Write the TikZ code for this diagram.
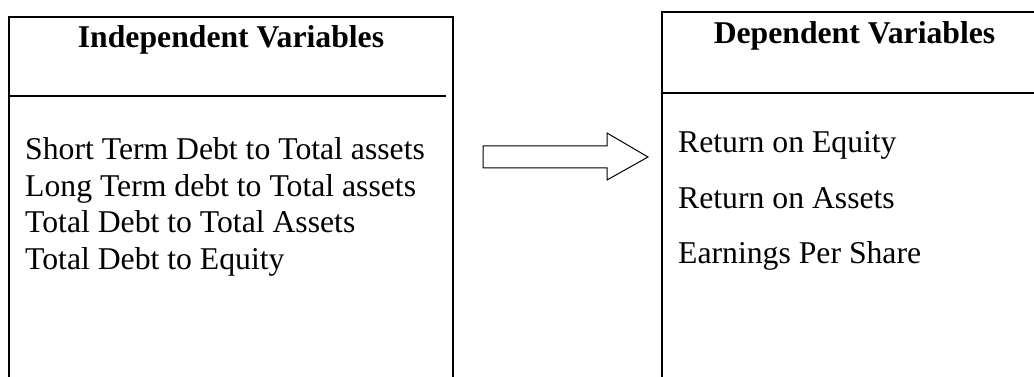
\documentclass[tikz,border=0pt]{standalone}
\usepackage{fontspec}
\setmainfont{Liberation Serif}
\begin{document}
\begin{tikzpicture}[x=1pt,y=-1pt,
  boxline/.style={draw=black,line width=1.6pt},
  divline/.style={draw=black,line width=1.5pt},
  heading/.style={anchor=base,inner sep=0pt,font=\fontsize{31.7}{38}\selectfont\bfseries},
  item/.style={anchor=base west,inner sep=0pt,font=\fontsize{31.7}{38}\selectfont},
  bigarrow/.style={draw=black,line width=1pt,fill=white}]
\useasboundingbox (0,0) rectangle (1034,377);
\clip (0,0) rectangle (1034,377);
% left box
\draw[boxline] (9,378) -- (9,17) -- (453,17) -- (453,378);
\draw[divline] (10,96) -- (446,96);
\node[heading] (lh) at (231,48) {Independent Variables};
\node[item] (l1) at (25,160) {Short Term Debt to Total assets};
\node[item] (l2) at (25,196.5) {Long Term debt to Total assets};
\node[item] (l3) at (25,233) {Total Debt to Total Assets};
\node[item] (l4) at (25,269.5) {Total Debt to Equity};
% right box
\draw[boxline] (662,378) -- (662,12) -- (1035,12);
\draw[divline] (663,93) -- (1035,93);
\node[heading] (rh) at (854.5,44) {Dependent Variables};
\node[item] (r1) at (678,153) {Return on Equity};
\node[item] (r2) at (678,208) {Return on Assets};
\node[item] (r3) at (678,263) {Earnings Per Share};
% arrow
\draw[bigarrow] (483,146) -- (607,146) -- (607,133) -- (648,157) -- (607,180) -- (607,168) -- (483,168) -- cycle;
\end{tikzpicture}
\end{document}
